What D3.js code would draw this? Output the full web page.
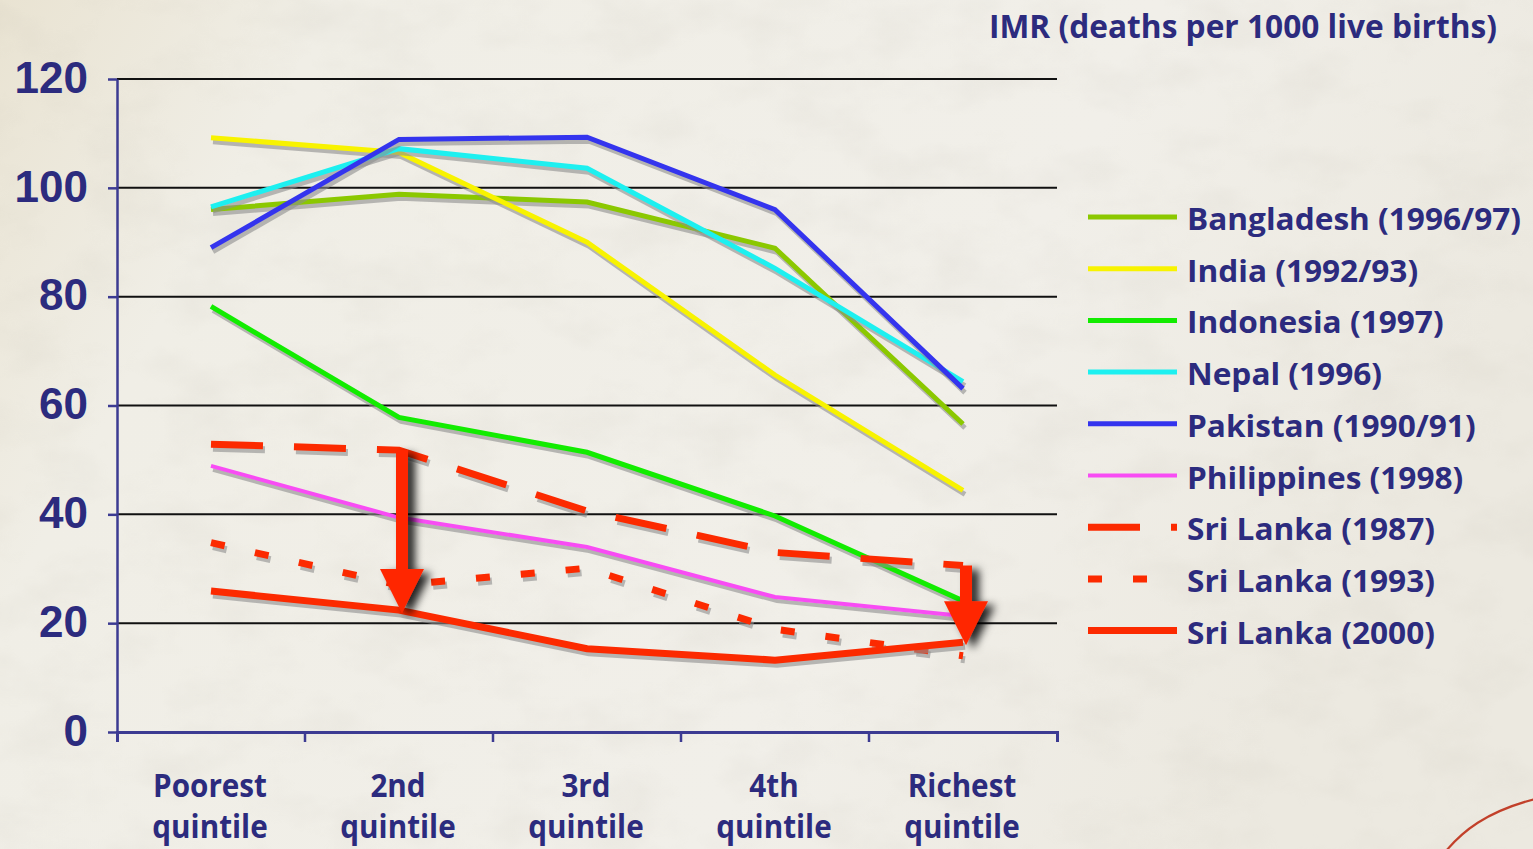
<!DOCTYPE html>
<html>
<head>
<meta charset="utf-8">
<script src="https://cdn.jsdelivr.net/npm/d3@7"></script>
<style>
  html, body { margin: 0; padding: 0; background: #efede6; overflow: hidden; }
  svg { display: block; }
</style>
</head>
<body>
<svg id="chart" width="1533" height="849"></svg>
<script>
// ---- data ----
const categories = ["Poorest quintile", "2nd quintile", "3rd quintile", "4th quintile", "Richest quintile"];
const yTicks = [0, 20, 40, 60, 80, 100, 120];
const titleText = "IMR (deaths per 1000 live births)";

const seriesNames = [
  "Bangladesh (1996/97)", "India (1992/93)", "Indonesia (1997)", "Nepal (1996)",
  "Pakistan (1990/91)", "Philippines (1998)", "Sri Lanka (1987)", "Sri Lanka (1993)", "Sri Lanka (2000)"
];

const bangladesh   = [96.0, 98.8, 97.4, 88.9, 56.6];
const india        = [109.2, 106.5, 90.0, 65.6, 44.4];
const indonesia    = [78.2, 57.8, 51.4, 39.7, 24.1];
const nepal        = [96.5, 107.2, 103.6, 85.2, 64.4];
const pakistan     = [89.0, 108.9, 109.3, 96.0, 63.1];
const philippines  = [48.9, 39.4, 34.0, 24.8, 21.3];
const sriLanka1987 = [52.9, 51.8, 40.6, 33.0, 30.6];
const sriLanka1993 = [34.8, 27.0, 30.1, 18.9, 14.0];
const sriLanka2000 = [25.9, 22.4, 15.3, 13.2, 16.5];

// arrows: drop from the 1987 level to the 2000 level at these quintiles
const arrowCategories = ["2nd quintile", "Richest quintile"];

// ---- styling per series ----
const seriesValues = [bangladesh, india, indonesia, nepal, pakistan, philippines, sriLanka1987, sriLanka1993, sriLanka2000];
const seriesStyle = [
  { color: "#8bc800", width: 5, dash: null },
  { color: "#f8f300", width: 5, dash: null },
  { color: "#12ec00", width: 5, dash: null },
  { color: "#1df0f0", width: 5, dash: null },
  { color: "#3434ee", width: 5, dash: null },
  { color: "#f84cf4", width: 4, dash: null },
  { color: "#fc2a00", width: 7, dash: "52,31" },
  { color: "#fc2a00", width: 7, dash: "14,31" },
  { color: "#fc2a00", width: 7, dash: null }
];
const series = seriesNames.map((name, i) => ({ name, values: seriesValues[i], ...seriesStyle[i] }));

const navy = "#2c2b7e";
const textFont = "'Open Sans', 'Noto Sans', sans-serif";

// ---- canvas ----
const svg = d3.select("#chart");
const W = 1533, H = 849;
const defs = svg.append("defs");

const bg = defs.append("linearGradient").attr("id", "paper").attr("x1", 0).attr("y1", 0).attr("x2", 1).attr("y2", 0.3);
bg.append("stop").attr("offset", 0).attr("stop-color", "#e9e3d2");
bg.append("stop").attr("offset", 0.2).attr("stop-color", "#f0eee6");
bg.append("stop").attr("offset", 0.7).attr("stop-color", "#f1efe9");
bg.append("stop").attr("offset", 1).attr("stop-color", "#ece9e0");

const grain = defs.append("filter").attr("id", "grain").attr("x", 0).attr("y", 0).attr("width", 1).attr("height", 1);
grain.append("feTurbulence").attr("type", "fractalNoise").attr("baseFrequency", "0.012 0.02").attr("numOctaves", 4).attr("seed", 7);
grain.append("feColorMatrix").attr("type", "matrix")
  .attr("values", "0 0 0 0 0.55  0 0 0 0 0.52  0 0 0 0 0.45  0 0 0 -1.3 0.75");

const arrowShadow = defs.append("filter").attr("id", "arrowShadow")
  .attr("x", -0.6).attr("y", -0.2).attr("width", 2.2).attr("height", 1.5);
arrowShadow.append("feDropShadow").attr("dx", 7).attr("dy", 4).attr("stdDeviation", 4.5)
  .attr("flood-color", "#000").attr("flood-opacity", 0.85);

svg.append("rect").attr("width", W).attr("height", H).attr("fill", "url(#paper)");
svg.append("rect").attr("width", W).attr("height", H).attr("filter", "url(#grain)").attr("opacity", 0.22);

// decorative red stroke in the lower-right corner
svg.append("path")
  .attr("d", "M1446,851 C1462,832 1485,812 1535,799")
  .attr("fill", "none").attr("stroke", "#c2402a").attr("stroke-width", 2.2);

// ---- scales ----
const x = d3.scalePoint().domain(categories).range([117, 1057]).padding(0.5);
const y = d3.scaleLinear().domain([0, 120]).range([732, 79]);
const step = x.step();

// ---- grid ----
svg.append("g").selectAll("line")
  .data(yTicks.filter(d => d > 0))
  .join("line")
  .attr("x1", 117).attr("x2", 1057)
  .attr("y1", d => y(d)).attr("y2", d => y(d))
  .attr("stroke", "#111").attr("stroke-width", 2);

// ---- y axis ----
const yAxis = svg.append("g").attr("transform", "translate(117,0)")
  .call(d3.axisLeft(y).tickValues(yTicks).tickSize(9).tickSizeOuter(0).tickPadding(20).tickFormat(d3.format("d")));
yAxis.select(".domain").attr("stroke", "#3c3b92").attr("stroke-width", 2.5);
yAxis.selectAll(".tick line").attr("stroke", "#3c3b92").attr("stroke-width", 2.5);
yAxis.selectAll(".tick text")
  .attr("fill", navy)
  .attr("font-family", "'Liberation Sans', Arial, sans-serif")
  .attr("font-weight", 700)
  .attr("font-size", 44)
  .attr("dy", "0.3em");

// ---- x axis ----
const xAxis = svg.append("g").attr("transform", "translate(0,732)")
  .call(d3.axisBottom(x).tickSize(0).tickSizeOuter(10).tickFormat(""));
xAxis.select(".domain").attr("stroke", "#3c3b92").attr("stroke-width", 3);
xAxis.selectAll(".tick").remove();
xAxis.selectAll("line.edge")
  .data(categories.slice(0, -1))
  .join("line")
  .attr("class", "edge")
  .attr("x1", d => x(d) + step / 2).attr("x2", d => x(d) + step / 2)
  .attr("y1", 0).attr("y2", 10)
  .attr("stroke", "#3c3b92").attr("stroke-width", 2.5);

// horizontally fit a text element to a given width
function fitWidth(node, factor) {
  const n = node.getComputedTextLength();
  d3.select(node).attr("textLength", n * factor).attr("lengthAdjust", "spacingAndGlyphs");
}

// two-line category labels, narrowed horizontally
const xLabels = svg.append("g").attr("fill", navy).attr("font-family", textFont)
  .attr("font-weight", 700).attr("font-size", 32).attr("text-anchor", "middle");
const labelNodes = categories.map(c => {
  const t = xLabels.append("text").attr("transform", `translate(${x(c) - 1},0)`);
  c.split(" ").forEach((p, j) => {
    t.append("tspan").attr("x", 0).attr("y", j === 0 ? 797 : 838).text(p);
  });
  return t;
});
const probe = labelNodes[0].select("tspan").node();
const xFactor = 114 / probe.getComputedTextLength();
labelNodes.forEach(t => {
  const c = categories[labelNodes.indexOf(t)];
  t.attr("transform", `translate(${x(c) - 1},0) scale(${xFactor},1)`);
});

// ---- series lines ----
const line = d3.line().x((d, i) => x(categories[i])).y(d => y(d));
const plot = svg.append("g");
series.forEach(s => {
  plot.append("path")
    .attr("d", line(s.values))
    .attr("transform", "translate(2,4)")
    .attr("fill", "none")
    .attr("stroke", "#8e8e8e").attr("stroke-opacity", 0.6)
    .attr("stroke-width", s.width)
    .attr("stroke-dasharray", s.dash);
  plot.append("path")
    .attr("d", line(s.values))
    .attr("fill", "none")
    .attr("stroke", s.color)
    .attr("stroke-width", s.width)
    .attr("stroke-dasharray", s.dash);
});

// ---- arrows ----
const arrows = svg.append("g").attr("filter", "url(#arrowShadow)");
arrowCategories.forEach(c => {
  const i = categories.indexOf(c);
  const cx = x(c) + 3;
  const top = y(sriLanka1987[i]);
  const tip = y(sriLanka2000[i]) + 3;
  const head = 44, half = 22, shaft = 6;
  const p = d3.path();
  p.moveTo(cx - shaft, top);
  p.lineTo(cx + shaft, top);
  p.lineTo(cx + shaft, tip - head);
  p.lineTo(cx + half, tip - head);
  p.lineTo(cx, tip);
  p.lineTo(cx - half, tip - head);
  p.lineTo(cx - shaft, tip - head);
  p.closePath();
  arrows.append("path").attr("d", p.toString()).attr("fill", "#ff2800");
});

// ---- title ----
const title = svg.append("text")
  .attr("x", 989).attr("y", 38)
  .attr("fill", navy).attr("font-family", textFont).attr("font-weight", 700).attr("font-size", 32)
  .text(titleText);
fitWidth(title.node(), 508 / title.node().getComputedTextLength());

// ---- legend ----
const legend = svg.append("g");
const legendTexts = [];
series.forEach((s, i) => {
  const ly = 217 + i * 51.7;
  legend.append("line")
    .attr("x1", 1088).attr("x2", 1177).attr("y1", ly).attr("y2", ly)
    .attr("stroke", s.color).attr("stroke-width", s.width)
    .attr("stroke-dasharray", s.dash);
  legendTexts.push(legend.append("text")
    .attr("x", 1187).attr("y", ly + 13)
    .attr("fill", navy).attr("font-family", textFont).attr("font-weight", 700).attr("font-size", 31)
    .text(s.name).node());
});
const legendFactor = 334 / legendTexts[0].getComputedTextLength();
legendTexts.forEach(n => fitWidth(n, legendFactor));
</script>
</body>
</html>
